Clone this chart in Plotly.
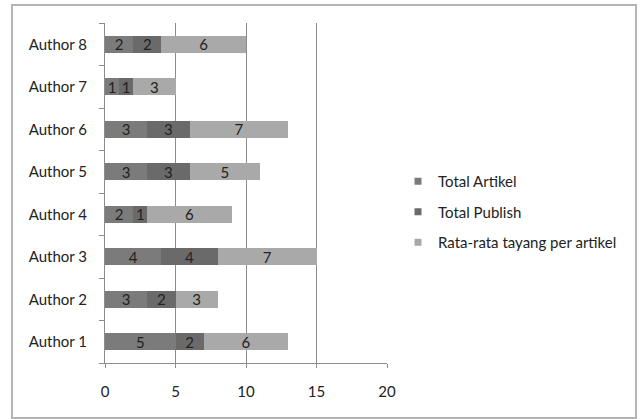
import plotly.graph_objects as go

# Data
authors = ["Author 1", "Author 2", "Author 3", "Author 4",
           "Author 5", "Author 6", "Author 7", "Author 8"]
total_artikel = [5, 3, 4, 2, 3, 3, 1, 2]
total_publish = [2, 2, 4, 1, 3, 3, 1, 2]
rata_tayang = [6, 3, 7, 6, 5, 7, 3, 6]

series_names = ["Total Artikel", "Total Publish", "Rata-rata tayang per artikel"]
series_values = [total_artikel, total_publish, rata_tayang]
series_colors = ["#7b7b7b", "#6a6a6a", "#a9a9a9"]

FONT = "Lato, Carlito, 'Liberation Sans', sans-serif"
FS = 15
W, H = 641, 419
ML, MR, MT, MB = 105, 254, 23, 56

fig = go.Figure()

for name, vals, col in zip(series_names, series_values, series_colors):
    fig.add_trace(go.Bar(
        y=authors, x=vals, name=name, orientation="h",
        marker=dict(color=col, line=dict(width=0)),
        text=vals, textposition="inside", insidetextanchor="middle",
        textangle=0,
        insidetextfont=dict(family=FONT, size=FS, color="#222222"),
        showlegend=False, hoverinfo="x+y+name",
    ))

# Legend entries with small square swatches
for i, (name, col) in enumerate(zip(series_names, series_colors)):
    fig.add_trace(go.Scatter(
        x=[None], y=[None], mode="markers", name=name,
        marker=dict(symbol="square", size=7, color=col),
        legendgroup=f"g{i}", showlegend=True,
    ))

# Outer frame around the whole chart (in paper coordinates)
pw = W - ML - MR
ph = H - MT - MB
def px_x(p):
    return (p - ML) / pw
def px_y(p):
    return (H - MB - p) / ph

fig.add_shape(type="rect", xref="paper", yref="paper",
              x0=px_x(12), x1=px_x(636), y0=px_y(418), y1=px_y(5),
              line=dict(color="#b4b4b4", width=2), fillcolor="rgba(0,0,0,0)",
              layer="below")

fig.update_layout(
    width=W, height=H,
    barmode="stack", bargap=0.6,
    plot_bgcolor="white", paper_bgcolor="white",
    margin=dict(l=ML, r=MR, t=MT, b=MB, pad=0),
    font=dict(family=FONT, size=FS, color="#222222"),
    uniformtext=dict(minsize=14, mode="show"),
    xaxis=dict(
        range=[0, 20], tickvals=[0, 5, 10, 15, 20],
        showgrid=True, gridcolor="#8c8c8c", gridwidth=1,
        showline=True, linecolor="#8c8c8c", linewidth=1,
        ticks="outside", ticklen=4, tickcolor="#8c8c8c",
        zeroline=False, tickfont=dict(family=FONT, size=FS, color="#222222"),
        ticklabelstandoff=11,
        fixedrange=True,
    ),
    yaxis=dict(
        showgrid=False, showline=True, linecolor="#8c8c8c", linewidth=1,
        ticks="outside", ticklen=5, tickcolor="#8c8c8c",
        tickson="boundaries", zeroline=False,
        tickfont=dict(family=FONT, size=FS, color="#222222"),
        ticklabelstandoff=14,
        fixedrange=True,
    ),
    legend=dict(
        x=px_x(398), y=px_y(165), xanchor="left", yanchor="top",
        bgcolor="rgba(0,0,0,0)", borderwidth=0,
        font=dict(family=FONT, size=FS, color="#222222"),
        tracegroupgap=8, itemwidth=30,
    ),
)

fig.write_html("out.html")
